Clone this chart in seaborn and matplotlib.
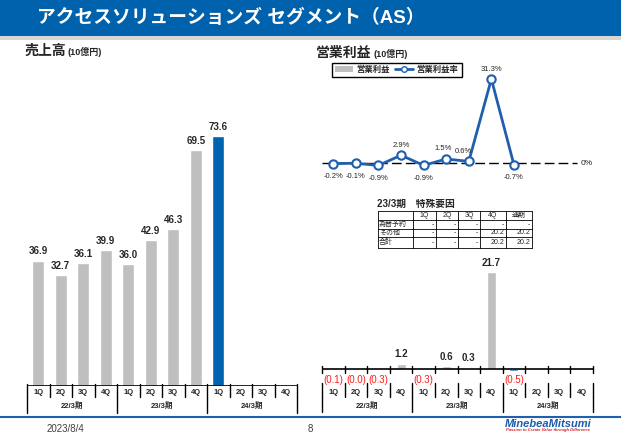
import numpy as np
import pandas as pd
import matplotlib
matplotlib.use("Agg")
import matplotlib.pyplot as plt
import seaborn as sns
from matplotlib.patches import Rectangle, Patch
from matplotlib.lines import Line2D
from matplotlib.transforms import blended_transform_factory

# ---------------- data ----------------
fiscal_years = ["22/3期", "23/3期", "24/3期"]
quarters = ["1Q", "2Q", "3Q", "4Q"]
sales = [36.9, 32.7, 36.1, 39.9, 36.0, 42.9, 46.3, 69.5, 73.6]
op_income = [-0.1, -0.04, -0.3, 1.2, -0.3, 0.6, 0.3, 21.7, -0.5]
op_margin = [-0.2, -0.1, -0.9, 2.9, -0.9, 1.5, 0.6, 31.3, -0.7]
table_title = "23/3期　特殊要因"
table_cols = ["1Q", "2Q", "3Q", "4Q", "通期"]
table_rows = ["為替予約", "その他", "合計"]
table_vals = [["-", "-", "-", "-", "-"],
              ["-", "-", "-", "20.2", "20.2"],
              ["-", "-", "-", "20.2", "20.2"]]

# ---------------- style ----------------
sns.set_theme(style="white")
plt.rcParams['font.family'] = ['Liberation Sans', 'Noto Sans CJK JP']

W, H = 621, 438
GREY = "#BFBFBF"
BLUE = "#0063B0"
LBLUE = "#1F5FAD"
TBLUE = "#0062AD"

fig = plt.figure(figsize=(W / 100, H / 100), dpi=100)


def rect(x0, x1, ytop, ybot):
    return [x0 / W, 1 - ybot / H, (x1 - x0) / W, (ybot - ytop) / H]


def fy(y):
    return 1 - y / H


# overlay in pixel coords for decorations
ov = fig.add_axes([0, 0, 1, 1])
ov.set_xlim(0, W)
ov.set_ylim(H, 0)
ov.axis('off')
ov.add_patch(Rectangle((0, 0), W, 36, color=TBLUE, lw=0))
ov.add_patch(Rectangle((0, 36), W, 4, color="#D6D6D6", lw=0))
ov.text(37, 18, "アクセスソリューションズ セグメント（AS）", color="white",
        fontsize=13.5, fontweight='bold', va='center', ha='left')
ov.text(25, 51, "売上高", fontsize=10, fontweight='bold', va='center')
ov.text(68, 52, "(10億円)", fontsize=6.5, fontweight='bold', va='center')
ov.text(316, 53, "営業利益", fontsize=10, fontweight='bold', va='center')
ov.text(373, 54, "(10億円)", fontsize=6.5, fontweight='bold', va='center')
ov.plot([0, W], [417, 417], color=LBLUE, lw=1.5)
ov.text(47, 429, "2023/8/4", fontsize=7, color="#404040", va='center')
ov.text(308, 429, "8", fontsize=7, color="#404040", va='center')
ov.text(548, 424, "MinebeaMitsumi", fontsize=8, fontweight='bold', style='italic',
        color="#1A5DAD", ha='center', va='center')
ov.text(548, 430.5, "Passion to Create Value through Difference", fontsize=3,
        fontweight='bold', style='italic', color="#D0202A", ha='center', va='center')

# table
cx = [378, 413, 436, 458, 480, 506, 532]
ry = [211, 220, 228.5, 237, 248]
ov.text(377, 204, table_title, fontsize=7, fontweight='bold', va='center')
for x in cx:
    ov.plot([x, x], [ry[0], ry[-1]], color='black', lw=0.6)
for y in ry:
    ov.plot([cx[0], cx[-1]], [y, y], color='black', lw=0.6)
for j, c in enumerate(table_cols):
    ov.text((cx[j + 1] + cx[j + 2]) / 2, (ry[0] + ry[1]) / 2, c, fontsize=5,
            ha='center', va='center')
for i, r in enumerate(table_rows):
    yc = (ry[i + 1] + ry[i + 2]) / 2
    ov.text(cx[0] + 1, yc, r, fontsize=5, ha='left', va='center')
    for j, v in enumerate(table_vals[i]):
        ov.text(cx[j + 2] - 2, yc, v, fontsize=5, ha='right', va='center')

keys = [f"{fy_}{q}" for fy_ in fiscal_years for q in quarters]
palette = {k: GREY for k in keys}
palette[keys[8]] = BLUE


def draw_categories(ax, segs, group_seg, qy=393, gy=406):
    trans = blended_transform_factory(ax.transData, fig.transFigure)
    bounds = np.arange(13) - 0.5
    for (y0, y1) in segs:
        for b in bounds:
            ax.add_line(Line2D([b, b], [fy(y0), fy(y1)], transform=trans,
                               color='black', lw=1, clip_on=False))
    for b in [-0.5, 3.5, 7.5, 11.5]:
        ax.add_line(Line2D([b, b], [fy(group_seg[0]), fy(group_seg[1])],
                           transform=trans, color='black', lw=1, clip_on=False))
    for i in range(12):
        ax.text(i, fy(qy), quarters[i % 4], transform=trans, ha='center',
                va='center', fontsize=5.5, fontweight='bold')
    for g, name in enumerate(fiscal_years):
        ax.text(4 * g + 1.5, fy(gy), name, transform=trans, ha='center',
                va='center', fontsize=5.5, fontweight='bold')


# ---------------- left: sales ----------------
ax1 = fig.add_axes(rect(27, 297, 60, 386))
df_s = pd.DataFrame({"key": keys[:len(sales)], "sales": sales})
sns.barplot(data=df_s, x="key", y="sales", hue="key", order=keys,
            hue_order=keys, palette=palette, width=0.52, saturation=1,
            legend=False, ax=ax1)
for i, v in enumerate(sales):
    ax1.text(i, v + 1.2, f"{v:.1f}", ha='center', va='bottom', fontsize=7,
             fontweight='bold')
ax1.axhline(0, color='black', lw=1.2)
draw_categories(ax1, [(384, 397)], (397, 413))
ax1.set_xlim(-0.5, 11.5)
ax1.set_ylim(0, 95.9)
ax1.axis('off')

# ---------------- right top: margin line ----------------
ax2 = fig.add_axes(rect(322, 593, 60, 185))
ax2.plot([-0.5, 10.8], [0, 0], color='black', lw=1, dashes=(7, 3), zorder=1)
sns.lineplot(x=np.arange(len(op_margin)), y=op_margin, ax=ax2, color=LBLUE,
             lw=2, marker='o', markersize=6, markerfacecolor='white',
             markeredgecolor=LBLUE, markeredgewidth=1.5, zorder=3)
label_dx = {5: -3, 6: -5}
for i, v in enumerate(op_margin):
    if v >= 0:
        dx, dy = label_dx.get(i, 0), 10
    else:
        dx, dy = 0, -13
    ax2.annotate(f"{v:.1f}%", (i, v), xytext=(dx, dy), textcoords='offset pixels',
                 ha='center', va='center', fontsize=5.5)
ax2.text(10.95, 0, "0%", fontsize=6, va='center', ha='left')
ax2.set_xlim(-0.5, 11.5)
ax2.set_ylim(-8.2, 38.4)
ax2.axis('off')

handles = [Patch(facecolor=GREY, edgecolor='none'),
           Line2D([], [], color=LBLUE, lw=2, marker='o', markersize=4,
                  markerfacecolor='white', markeredgecolor=LBLUE)]
leg = fig.legend(handles, ["営業利益", "営業利益率"], loc='upper left',
                 bbox_to_anchor=(332 / W, fy(63)), ncol=2, frameon=True,
                 fancybox=False, edgecolor='black', framealpha=1,
                 prop={'size': 6, 'weight': 'bold'}, borderpad=0.35,
                 handlelength=2.2, handleheight=0.7, columnspacing=0.6,
                 handletextpad=0.4, borderaxespad=0)
leg.get_frame().set_linewidth(1)

# ---------------- right bottom: operating income ----------------
ax3 = fig.add_axes(rect(322, 593, 258, 378))
df_o = pd.DataFrame({"key": keys[:len(op_income)], "op": op_income})
sns.barplot(data=df_o, x="key", y="op", hue="key", order=keys,
            hue_order=keys, palette=palette, width=0.4, saturation=1,
            legend=False, ax=ax3)
trans3 = blended_transform_factory(ax3.transData, fig.transFigure)
for i, v in enumerate(op_income):
    if v >= 0:
        ax3.text(i, v + 1.0, f"{v:.1f}", ha='center', va='bottom', fontsize=7,
                 fontweight='bold')
    else:
        ax3.text(i, fy(380), f"({abs(v):.1f})", transform=trans3, ha='center',
                 va='center', fontsize=7, color='#FF1A1A')
ax3.axhline(0, color='black', lw=1.2)
draw_categories(ax3, [(366, 373), (383, 397)], (397, 412))
ax3.set_xlim(-0.5, 11.5)
ax3.set_ylim(-2.01, 24.83)
ax3.axis('off')

fig.savefig("out.png", dpi=100)
